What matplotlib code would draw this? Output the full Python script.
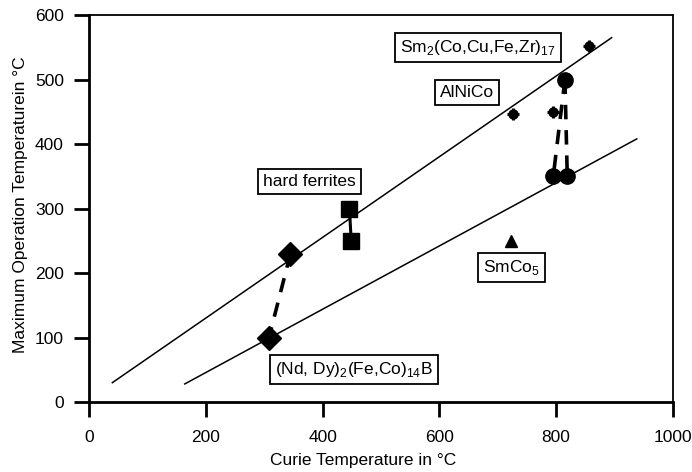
import matplotlib.pyplot as plt

plt.rcParams["font.family"] = ["Liberation Sans", "DejaVu Sans"]
plt.rcParams["font.size"] = 12.5
plt.rcParams["mathtext.fontset"] = "custom"
plt.rcParams["mathtext.rm"] = "Liberation Sans"

# guide lines (Curie temperature, max. operation temperature)
upper_line_x = [40, 895]
upper_line_y = [30, 565]
lower_line_x = [164, 938]
lower_line_y = [28, 408]

# (Nd, Dy)2(Fe,Co)14B
ndfeb_x = [308, 345]
ndfeb_y = [100, 230]
ndfeb_curve_x = [345, 313, 308]
ndfeb_curve_y = [230, 117, 100]

# hard ferrites
ferrite_x = [446, 449]
ferrite_y = [300, 250]

# Sm2(Co,Cu,Fe,Zr)17
sm2co17_x = [795, 819, 815]
sm2co17_y = [350, 350, 500]

# AlNiCo
alnico_x = [726, 795, 857]
alnico_y = [447, 449, 552]

# SmCo5
smco5_x = [722]
smco5_y = [250]

labels = [
    (r"Sm$_2$(Co,Cu,Fe,Zr)$_{17}$", 666, 550),
    ("AlNiCo", 647, 480),
    ("hard ferrites", 378, 342),
    (r"SmCo$_5$", 723, 209),
    (r"(Nd, Dy)$_2$(Fe,Co)$_{14}$B", 454, 50),
]


def main():
    fig = plt.figure(figsize=(6.92, 4.72), dpi=100)
    ax = fig.add_axes([0.1286, 0.1483, 0.8439, 0.8197])

    ax.plot(upper_line_x, upper_line_y, color="black", lw=1.1)
    ax.plot(lower_line_x, lower_line_y, color="black", lw=1.1)

    # connecting lines
    ax.plot(ndfeb_curve_x, ndfeb_curve_y, color="black", lw=2.6, dashes=(4, 3))
    ax.plot(ferrite_x, ferrite_y, color="black", lw=2.2)
    ax.plot([sm2co17_x[2], sm2co17_x[0]], [sm2co17_y[2], sm2co17_y[0]],
            color="black", lw=2.6, dashes=(4, 3))
    ax.plot([sm2co17_x[2], sm2co17_x[1]], [sm2co17_y[2], sm2co17_y[1]],
            color="black", lw=2.6, dashes=(4, 3))

    ax.plot(ndfeb_x, ndfeb_y, "D", color="black", ms=12, ls="none")
    ax.plot(ferrite_x, ferrite_y, "s", color="black", ms=11, ls="none")
    ax.plot(sm2co17_x, sm2co17_y, "o", color="black", ms=11, ls="none")
    ax.plot(alnico_x, alnico_y, "o", color="black", ms=6.5, ls="none")
    ax.plot(alnico_x, alnico_y, "+", color="black", ms=9, mew=2.2, ls="none")
    ax.plot(smco5_x, smco5_y, "^", color="black", ms=9, ls="none")

    for text, x, y in labels:
        ax.text(x, y, text, ha="center", va="center", fontsize=12.5,
                bbox=dict(boxstyle="square,pad=0.3", fc="white", ec="black", lw=1.3))

    ax.set_xlim(0, 1000)
    ax.set_ylim(0, 600)
    ax.set_xticks(range(0, 1001, 200))
    ax.set_yticks(range(0, 601, 100))
    ax.tick_params(direction="out", length=11, width=2, labelsize=12.5)
    ax.tick_params(axis="x", pad=9)
    ax.tick_params(axis="y", pad=7)

    for side in ["left", "bottom"]:
        ax.spines[side].set_linewidth(2)
    for side in ["top", "right"]:
        ax.spines[side].set_linewidth(1.3)

    ax.set_xlabel("Curie Temperature in °C", fontsize=12.5, labelpad=6, x=0.469)
    ax.set_ylabel("Maximum Operation Temperaturein °C", fontsize=12.5)
    ax.yaxis.set_label_coords(-0.104, 0.51)

    fig.savefig("out.png", dpi=100)
    plt.close(fig)


if __name__ == "__main__":
    main()
